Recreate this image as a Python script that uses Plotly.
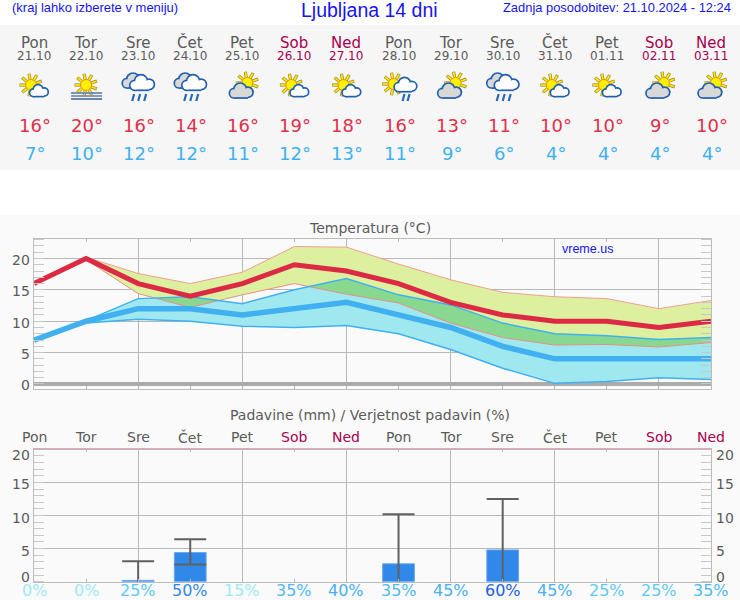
import math
import numpy as np
import plotly.graph_objects as go

W, H = 740, 600
days = ["Pon", "Tor", "Sre", "Čet", "Pet", "Sob", "Ned", "Pon", "Tor", "Sre", "Čet", "Pet", "Sob", "Ned"]
dates = ["21.10", "22.10", "23.10", "24.10", "25.10", "26.10", "27.10", "28.10", "29.10", "30.10", "31.10", "01.11", "02.11", "03.11"]
icons = ["sc", "fog", "rain", "rain", "cs", "sc", "sc", "srain", "cs", "rain", "sc", "sc", "cs", "cs"]
t_max = [16, 20, 16, 14, 16, 19, 18, 16, 13, 11, 10, 10, 9, 10]
t_min = [7, 10, 12, 12, 11, 12, 13, 11, 9, 6, 4, 4, 4, 4]
red_hi = [16, 20.2, 17.6, 16, 17.8, 21.9, 21.8, 19.1, 16.6, 14.6, 13.9, 13.6, 12, 13.3]
red_lo = [16, 19.8, 14.4, 12.2, 14.2, 16, 14.3, 12.9, 9.7, 7.4, 6.2, 6.3, 5.9, 6.6]
blue_hi = [7, 10.1, 13.6, 13.9, 12.8, 15, 16.8, 14.2, 12.6, 9.7, 8, 7.7, 7.1, 7.4]
blue_lo = [7, 9.7, 10.3, 10, 9.2, 9, 9.3, 8, 5.5, 2.5, 0.1, 0.4, 1, 0.7]
rain = [None, None, 0.2, 4.4, None, None, None, 2.7, None, 4.8, None, None, None, None]
rain_hi = [None, None, 3.1, 6.4, None, None, None, 10.2, None, 12.5, None, None, None, None]
rain_lo = [None, None, -1, 2.6, None, None, None, -1, None, -1, None, None, None, None]
prob = [0, 0, 25, 50, 15, 35, 40, 35, 45, 60, 45, 25, 25, 35]
y_ticks = [0, 5, 10, 15, 20]

GREY = "#5a5a5a"
WEEKEND = "#a8004f"
BLUE_TXT = "#1414f0"
RED_T = "#e0304a"
BLUE_T = "#40b0f0"
PROB_COL = {0: "#a0e8f8", 15: "#a0e8f8", 25: "#60c8f8", 35: "#50b8f4", 40: "#48b0f0", 45: "#48b0f0", 50: "#3088e8", 60: "#2060e0"}
X0, X1 = 34, 711
STEP = (X1 - X0) / 13


def col(i):
    return X0 + STEP * i


def px(x):
    return x / W


def py(y):
    return 1 - y / H


shapes, annotations = [], []


def label(x, y, text, size, color, family="DejaVu Sans", anchor="center"):
    annotations.append(dict(xref="paper", yref="paper", x=px(x), y=py(y), text=text, showarrow=False,
                            font=dict(size=size, color=color, family=family), xanchor=anchor, yanchor="middle",
                            borderpad=0, align=anchor))


def rect(x0, y0, x1, y1, fill, layer="below"):
    shapes.append(dict(type="rect", xref="paper", yref="paper", x0=px(x0), x1=px(x1), y0=py(y0), y1=py(y1),
                       fillcolor=fill, line=dict(width=0), layer=layer))


def disc(x, y, r, fill, line=None, lw=0):
    shapes.append(dict(type="circle", xref="paper", yref="paper", x0=px(x - r), x1=px(x + r), y0=py(y - r), y1=py(y + r),
                       fillcolor=fill, line=dict(width=lw, color=line or fill), layer="above"))


def seg(x0, y0, x1, y1, color, lw):
    shapes.append(dict(type="line", xref="paper", yref="paper", x0=px(x0), x1=px(x1), y0=py(y0), y1=py(y1),
                       line=dict(color=color, width=lw), layer="above"))


def sun(x, y, r=5.5):
    for k in range(9):
        a = math.radians(-20 + k * 40)
        seg(x + r * math.cos(a), y + r * math.sin(a), x + (r + 6) * math.cos(a), y + (r + 6) * math.sin(a), "#9a8a30", 3.2)
    for k in range(9):
        a = math.radians(-20 + k * 40)
        seg(x + r * math.cos(a), y + r * math.sin(a), x + (r + 5.5) * math.cos(a), y + (r + 5.5) * math.sin(a), "#ffe600", 1.8)
    disc(x, y, r, "#fff000", "#f09000", 1)


def cloud(x, y, s, fill, edge="#2060b0"):
    lobes = [(-6.5 * s, 2 * s, 3.6 * s), (-1 * s, -1.5 * s, 5 * s), (6 * s, 1.2 * s, 3.9 * s)]
    for lx, ly, r in lobes:
        disc(x + lx, y + ly, r + 1.7, edge)
    rect(x - 6.5 * s, y + 1 * s, x + 6 * s, y + 5.6 * s + 1.7, edge, "above")
    for lx, ly, r in lobes:
        disc(x + lx, y + ly, r, fill)
    rect(x - 6.5 * s, y + 1 * s, x + 6 * s, y + 5.6 * s, fill, "above")


def rain_lines(x, y):
    for dx in (-6, 0, 6):
        seg(x + dx + 1, y, x + dx - 1, y + 7, "#2868b4", 2.2)


def draw_icon(kind, c):
    if kind == "sc":
        sun(c - 3, 85)
        cloud(c + 5, 91, 0.85, "#ffffff")
    elif kind == "fog":
        sun(c, 85)
        for yy, cc in ((93, "#6a88b8"), (96, "#7a90b8"), (99, "#5878a8")):
            seg(c - 15, yy, c + 16, yy, cc, 1.8)
    elif kind == "rain":
        cloud(c - 4, 81, 1.1, "#d8d8d8")
        cloud(c + 4, 83, 1.15, "#ffffff")
        rain_lines(c + 1, 94)
    elif kind == "cs":
        sun(c + 5, 83)
        cloud(c - 1, 91, 1.1, "#d8d8d8")
    elif kind == "srain":
        sun(c - 5, 84)
        cloud(c + 7, 85, 1.05, "#ffffff")
        for dx in (-2, 3):
            seg(c + 7 + dx + 1, 94, c + 7 + dx - 1, 101, "#2868b4", 2.2)


# page bands
rect(0, 25, W, 170, "#f6f6f6")
rect(0, 215, W, H, "#fafafa")

# header
label(11, 8, "(kraj lahko izberete v meniju)", 13, BLUE_TXT, "Liberation Sans", "left")
label(369, 10, "Ljubljana 14 dni", 19.5, BLUE_TXT, "Liberation Sans")
label(732, 8, "Zadnja posodobitev: 21.10.2024 - 12:24", 12.9, BLUE_TXT, "Liberation Sans", "right")

# day strip
for i in range(14):
    c = col(i)
    weekend = days[i] in ("Sob", "Ned")
    label(c, 43, days[i], 15, WEEKEND if weekend else GREY)
    label(c, 56, dates[i], 12, WEEKEND if weekend else GREY)
    draw_icon(icons[i], c)
    label(c + 1, 125, f"{t_max[i]}°", 18, RED_T)
    label(c + 1, 154, f"{t_min[i]}°", 18, BLUE_T)

# panel titles and labels
label(370, 228, "Temperatura (°C)", 14, GREY)
label(370, 415, "Padavine (mm) / Verjetnost padavin (%)", 14, GREY)
label(561, 249, "vreme.us", 12.5, BLUE_TXT, "Liberation Sans", "left")
for i in range(14):
    c = col(i)
    label(c, 437, days[i], 14, WEEKEND if days[i] in ("Sob", "Ned") else GREY)
    label(c, 590, f"{prob[i]}%", 16, PROB_COL[prob[i]])

label_shift = {0: 5, 5: -2, 10: -2, 15: -2, 20: -6}
for v in y_ticks:
    annotations.append(dict(xref="paper", yref="y", x=px(32), y=v, yshift=-1.5, text=str(v), showarrow=False,
                            xanchor="right", yanchor="middle", font=dict(size=14, color=GREY, family="DejaVu Sans")))
    for xa, an in ((32, "right"), (714, "left")):
        annotations.append(dict(xref="paper", yref="y2", x=px(xa), y=v, yshift=label_shift[v], text=str(v), showarrow=False,
                                xanchor=an, yanchor="middle", font=dict(size=14, color=GREY, family="DejaVu Sans")))

shapes.append(dict(type="line", xref="x2 domain", yref="y2 domain", x0=0, x1=1, y0=1, y1=1,
                   line=dict(color="#e4a0bc", width=1.2), layer="above"))


def overlap_polygons():
    xs = set(range(14))
    series = [np.array(a, float) for a in (red_hi, red_lo, blue_hi, blue_lo)]
    for i in range(13):
        for a in range(4):
            for b in range(a + 1, 4):
                d0 = series[a][i] - series[b][i]
                d1 = series[a][i + 1] - series[b][i + 1]
                if d0 * d1 < 0:
                    xs.add(i + d0 / (d0 - d1))
    xs = np.array(sorted(xs))
    grid = np.arange(14)
    hi = np.minimum(np.interp(xs, grid, red_hi), np.interp(xs, grid, blue_hi))
    lo = np.maximum(np.interp(xs, grid, red_lo), np.interp(xs, grid, blue_lo))
    px_, py_ = [], []
    run = []
    for k in range(len(xs) + 1):
        if k < len(xs) and hi[k] >= lo[k] - 1e-9:
            run.append(k)
        else:
            if len(run) > 1:
                px_ += [xs[j] for j in run] + [xs[j] for j in reversed(run)] + [None]
                py_ += [hi[j] for j in run] + [lo[j] for j in reversed(run)] + [None]
            run = []
    return px_, py_


x = list(range(14))
fig = go.Figure()


def band(hi, lo, fill):
    fig.add_trace(go.Scatter(x=x + x[::-1], y=hi + lo[::-1], fill="toself", fillcolor=fill, mode="none",
                             xaxis="x", yaxis="y", hoverinfo="skip"))


def line(values, color, width):
    fig.add_trace(go.Scatter(x=x, y=values, mode="lines", line=dict(color=color, width=width), xaxis="x", yaxis="y", hoverinfo="skip"))


fig.add_trace(go.Scatter(x=[0, 13], y=[0, 0], mode="lines", line=dict(color="#ababab", width=4), xaxis="x", yaxis="y", hoverinfo="skip"))
band(red_hi, red_lo, "#dcf0a0")
band(blue_hi, blue_lo, "#a0e8f0")
ox, oy = overlap_polygons()
fig.add_trace(go.Scatter(x=ox, y=oy, fill="toself", fillcolor="#88d890", mode="none", xaxis="x", yaxis="y", hoverinfo="skip"))
line(red_hi, "#f0a090", 1)
line(red_lo, "#e89080", 1)
line(blue_hi, "#40b0f0", 1.5)
line(blue_lo, "#40b0f0", 1.5)
line(t_min, "#40b0f0", 5.5)
line(t_max, "#dc2a44", 5)

err_plus = [None if v is None else h - v for v, h in zip(rain, rain_hi)]
err_minus = [None if v is None else v - l for v, l in zip(rain, rain_lo)]
fig.add_trace(go.Bar(x=x, y=rain, width=0.61, marker=dict(color="#3088e8", line=dict(color="#68a8f0", width=1)),
                     error_y=dict(type="data", symmetric=False, array=err_plus, arrayminus=err_minus, color="#606060", thickness=2, width=16),
                     xaxis="x2", yaxis="y2", hoverinfo="skip"))

GRID = "#b8b8b8"
FRAME = "#bcbcbc"


def x_axis(anchor):
    return dict(domain=[px(X0), px(X1)], range=[0, 13], anchor=anchor, dtick=2, tick0=0, showgrid=True, gridcolor=GRID, gridwidth=1,
                showticklabels=False, ticks="inside", ticklen=3, tickcolor=GRID, showline=True, linecolor=FRAME, mirror="ticks",
                zeroline=False, minor=dict(dtick=1, tick0=0, ticks="inside", ticklen=3, tickcolor=GRID, showgrid=False))


def y_axis(anchor, rng, domain):
    return dict(domain=domain, range=rng, anchor=anchor, tickvals=y_ticks, showgrid=True, gridcolor=GRID, gridwidth=1,
                showticklabels=False, ticks="", showline=True, linecolor=FRAME,
                mirror="ticks", zeroline=False,
                minor=dict(dtick=1, tick0=0, ticks="inside", ticklen=10, tickcolor="#c8c8c8", showgrid=False))


fig.update_layout(
    width=W, height=H, autosize=False, margin=dict(l=0, r=0, t=0, b=0, pad=0), showlegend=False,
    paper_bgcolor="#ffffff", plot_bgcolor="rgba(0,0,0,0)", barmode="overlay",
    xaxis=x_axis("y"), yaxis=y_axis("x", [-0.8, 23.1], [py(389), py(239)]),
    xaxis2=x_axis("y2"), yaxis2=y_axis("x2", [0, 20], [py(581.7), py(449.3)]),
    shapes=shapes, annotations=annotations,
)
fig.write_html("out.html", config=dict(displayModeBar=False, staticPlot=True),
               post_script="document.body.style.margin='0';")
